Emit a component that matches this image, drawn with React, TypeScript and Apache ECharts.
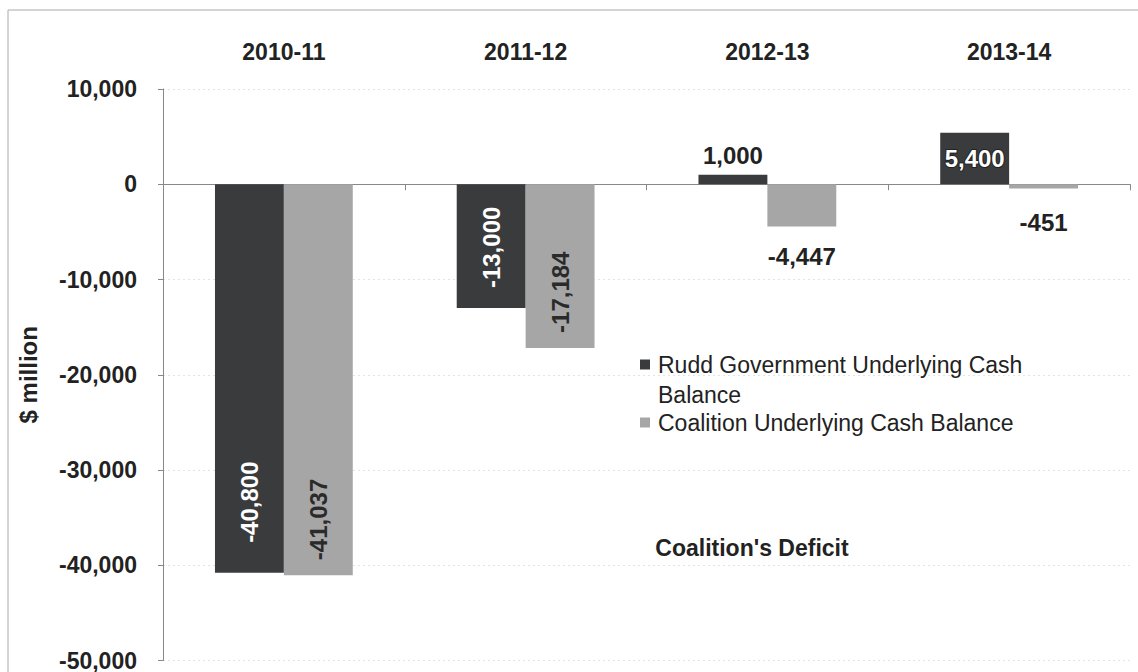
import React, { useEffect, useRef } from "react";
import * as echarts from "echarts";

const categories = ["2010-11", "2011-12", "2012-13", "2013-14"];
const ruddName = "Rudd Government Underlying Cash Balance";
const coalitionName = "Coalition Underlying Cash Balance";
const ruddValues = [-40800, -13000, 1000, 5400];
const coalitionValues = [-41037, -17184, -4447, -451];
const yMin = -50000;
const yMax = 10000;
const yStep = 10000;
const yAxisTitle = "$ million";
const annotation = "Coalition's Deficit";

const FONT = "'Liberation Sans', Arial, Helvetica, sans-serif";
const DARK = "#3a3b3d";
const LIGHT = "#a6a6a6";

const fmt = (v: number) => v.toLocaleString("en-US");

const baseLabel = { show: true, fontFamily: FONT, fontSize: 24, fontWeight: "bold", formatter: (p: any) => fmt(p.value) };
const rotated = (color: string, distance: number) => ({
  ...baseLabel,
  position: "insideBottom",
  rotate: 90,
  align: "left",
  verticalAlign: "middle",
  distance,
  color,
});

const ruddLabels = [
  rotated("#ffffff", 30),
  rotated("#ffffff", 20),
  { ...baseLabel, position: "top", distance: 7, color: "#222" },
  { ...baseLabel, position: "insideTop", distance: 14, color: "#ffffff", textBorderColor: "#222", textBorderWidth: 2 },
];
const coalitionLabels = [
  rotated("#2a2a2a", 15),
  rotated("#2a2a2a", 15),
  { ...baseLabel, position: "bottom", distance: 18, color: "#222" },
  { ...baseLabel, position: "bottom", distance: 22, color: "#222" },
];

export default function App() {
  const ref = useRef<HTMLDivElement>(null);
  useEffect(() => {
    if (!ref.current) return;
    const chart = echarts.init(ref.current, undefined, { renderer: "svg" });
    chart.setOption({
      animation: false,
      backgroundColor: "#ffffff",
      textStyle: { fontFamily: FONT },
      grid: { left: 163, right: 8, top: 89, bottom: 10, containLabel: false },
      legend: {
        orient: "vertical",
        left: 640,
        top: 323,
        padding: 0,
        itemGap: 5,
        itemWidth: 10,
        itemHeight: 10,
        icon: "rect",
        data: [ruddName, coalitionName],
        formatter: (name: string) =>
          name === ruddName ? "{sp| }\n{t|Rudd Government Underlying Cash}\n{t|Balance}" : "{t|" + name + "}",
        textStyle: {
          fontFamily: FONT,
          fontSize: 23,
          color: "#222",
          padding: [0, 0, 0, 3],
          rich: {
            t: { fontFamily: FONT, fontSize: 23, color: "#222", lineHeight: 30 },
            sp: { fontFamily: FONT, fontSize: 23, lineHeight: 30 },
          },
        },
      },
      xAxis: [
        {
          type: "category",
          data: categories,
          position: "top",
          axisLine: { show: false, onZero: false },
          axisTick: { show: false },
          axisLabel: { fontFamily: FONT, fontSize: 23, fontWeight: "bold", color: "#222", margin: 26 },
          splitLine: { show: false },
        },
        {
          type: "category",
          data: categories,
          position: "bottom",
          axisLine: { show: true, onZero: true, lineStyle: { color: "#888", width: 1 } },
          axisTick: { show: true, length: 6, lineStyle: { color: "#888" } },
          axisLabel: { show: false },
          splitLine: { show: false },
        },
      ],
      yAxis: {
        type: "value",
        min: yMin,
        max: yMax,
        interval: yStep,
        name: yAxisTitle,
        nameLocation: "middle",
        nameGap: 123,
        nameRotate: 90,
        nameTextStyle: { fontFamily: FONT, fontSize: 24, fontWeight: "bold", color: "#222" },
        axisLine: { show: true, lineStyle: { color: "#888", width: 1 } },
        axisTick: { show: true, length: 5, lineStyle: { color: "#888" } },
        axisLabel: { fontFamily: FONT, fontSize: 23, fontWeight: "bold", color: "#222", margin: 26, formatter: (v: number) => fmt(v) },
        splitLine: { show: true, lineStyle: { color: "#e4e4e4", type: [2, 3], width: 1 } },
      },
      series: [
        {
          name: ruddName,
          type: "bar",
          xAxisIndex: 0,
          barGap: "0%",
          barCategoryGap: "43%",
          itemStyle: { color: DARK },
          data: ruddValues.map((v, i) => ({ value: v, label: ruddLabels[i] })),
        },
        {
          name: coalitionName,
          type: "bar",
          xAxisIndex: 0,
          barGap: "0%",
          barCategoryGap: "43%",
          itemStyle: { color: LIGHT },
          data: coalitionValues.map((v, i) => ({ value: v, label: coalitionLabels[i] })),
        },
      ],
      graphic: [
        {
          type: "rect",
          silent: true,
          z: -1,
          shape: { x: 8, y: 10, width: 1140, height: 700 },
          style: { fill: "none", stroke: "#aaaaaa", lineWidth: 1 },
        },
        {
          type: "text",
          x: 752,
          y: 548,
          style: {
            text: annotation,
            font: `bold 23px ${FONT}`,
            fill: "#222",
            textAlign: "center",
            textVerticalAlign: "middle",
          },
        },
      ],
    });
    return () => chart.dispose();
  }, []);
  return <div ref={ref} style={{ position: "fixed", left: 0, top: 0, width: 1138, height: 672, background: "#fff" }} />;
}
